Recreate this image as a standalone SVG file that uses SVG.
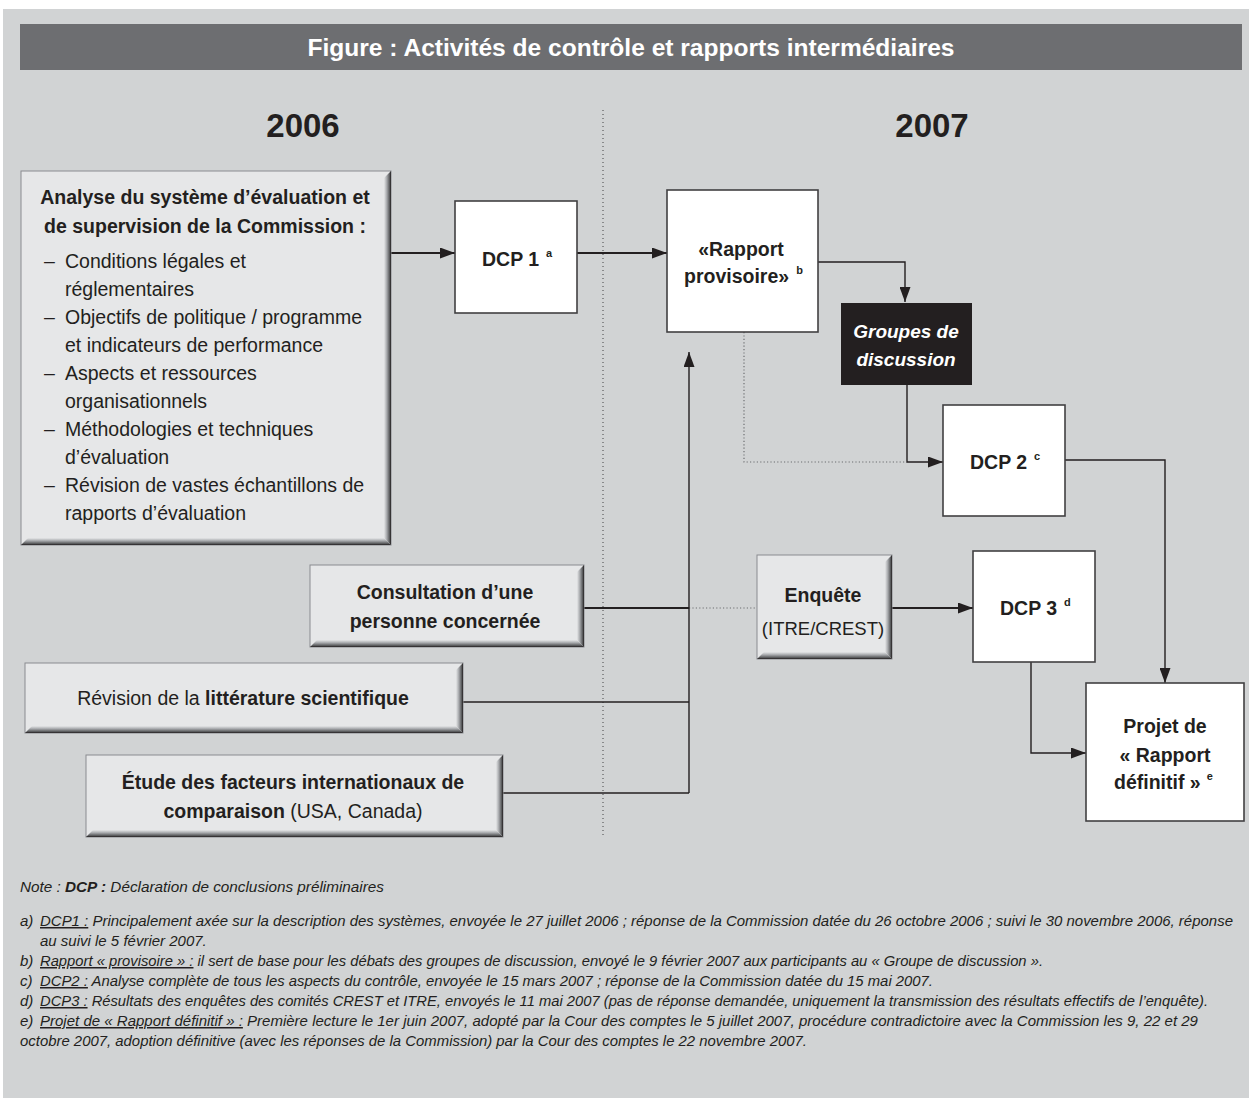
<svg xmlns="http://www.w3.org/2000/svg" width="1249" height="1102" viewBox="0 0 1249 1102">
<style>
text{font-family:"Liberation Sans",Arial,sans-serif;fill:#231f20}
.b{font-weight:bold}
.lbl{font-size:19.5px}
.sup{font-size:11px;font-weight:bold}
.bev{fill:#e6e7e8;stroke:#8a8c8f;stroke-width:1}
.bR{fill:url(#gR)}
.bB{fill:url(#gB)}
.wbox{fill:#ffffff;stroke:#414042;stroke-width:1.6}
.ln{fill:none;stroke:#231f20;stroke-width:1.8}
.ln2{fill:none;stroke:#231f20;stroke-width:1.4}
.dot{fill:none;stroke:#6d6e71;stroke-width:1.2;stroke-dasharray:1.2 2.2}
.div{fill:none;stroke:#414042;stroke-width:1;stroke-dasharray:1 3}
.note{font-size:15px;font-style:italic}
.u{text-decoration:underline}
</style>
<defs>
<linearGradient id="gR" x1="0" y1="0" x2="1" y2="0">
<stop offset="0" stop-color="#e6e7e8"/><stop offset="0.4" stop-color="#a7a9ac"/><stop offset="0.8" stop-color="#58595b"/><stop offset="1" stop-color="#231f20"/>
</linearGradient>
<linearGradient id="gB" x1="0" y1="0" x2="0" y2="1">
<stop offset="0" stop-color="#e6e7e8"/><stop offset="0.4" stop-color="#a7a9ac"/><stop offset="0.8" stop-color="#58595b"/><stop offset="1" stop-color="#231f20"/>
</linearGradient>
<marker id="ah" markerUnits="userSpaceOnUse" markerWidth="15" markerHeight="11" refX="15" refY="5.5" orient="auto">
<path d="M0,0 L15,5.5 L0,11 Z" fill="#231f20"/>
</marker>
</defs>

<rect x="0" y="0" width="1249" height="1102" fill="#ffffff"/>
<rect x="3" y="9" width="1246" height="1089" fill="#d1d3d4"/>

<g id="title">
<rect x="20" y="24" width="1222" height="46" fill="#6d6e71"/>
<text x="631" y="56" text-anchor="middle" class="b" style="font-size:23px;fill:#ffffff" textLength="647" lengthAdjust="spacingAndGlyphs">Figure : Activités de contrôle et rapports intermédiaires</text>
</g>

<g id="years">
<text x="303" y="137" text-anchor="middle" class="b" style="font-size:33px">2006</text>
<text x="932" y="137" text-anchor="middle" class="b" style="font-size:33px">2007</text>
<line x1="603" y1="110" x2="603" y2="838" class="div"/>
</g>

<g id="connectors">
<line x1="391" y1="253" x2="455" y2="253" class="ln" marker-end="url(#ah)"/>
<line x1="577" y1="253" x2="667" y2="253" class="ln" marker-end="url(#ah)"/>
<polyline points="818,262 905,262 905,302" class="ln2" marker-end="url(#ah)"/>
<polyline points="907,385 907,462 943,462" class="ln2" marker-end="url(#ah)"/>
<polyline points="744,332 744,462 907,462" class="dot"/>
<polyline points="1065,460 1165,460 1165,683" class="ln2" marker-end="url(#ah)"/>
<polyline points="1031,662 1031,753 1086,753" class="ln2" marker-end="url(#ah)"/>
<line x1="892" y1="608" x2="973" y2="608" class="ln" marker-end="url(#ah)"/>
<line x1="584" y1="608" x2="689" y2="608" class="ln"/>
<line x1="689" y1="608" x2="757" y2="608" class="dot"/>
<line x1="463" y1="702" x2="689" y2="702" class="ln2"/>
<line x1="503" y1="793" x2="689" y2="793" class="ln2"/>
<line x1="689" y1="793" x2="689" y2="352" class="ln2" marker-end="url(#ah)"/>
</g>

<g id="node-analyse">
<rect x="21" y="171" width="370" height="374" class="bev"/>
<polygon points="384,178 391,171 391,545 384,538" class="bR"/>
<polygon points="21,545 28,538 384,538 391,545" class="bB"/>
<text x="205" y="204" text-anchor="middle" class="b lbl">Analyse du système d’évaluation et</text>
<text x="205" y="233" text-anchor="middle" class="b lbl">de supervision de la Commission :</text>
<text x="44" y="268" class="lbl">–</text><text x="65" y="268" class="lbl">Conditions légales et</text>
<text x="65" y="296" class="lbl">réglementaires</text>
<text x="44" y="324" class="lbl">–</text><text x="65" y="324" class="lbl">Objectifs de politique / programme</text>
<text x="65" y="352" class="lbl">et indicateurs de performance</text>
<text x="44" y="380" class="lbl">–</text><text x="65" y="380" class="lbl">Aspects et ressources</text>
<text x="65" y="408" class="lbl">organisationnels</text>
<text x="44" y="436" class="lbl">–</text><text x="65" y="436" class="lbl">Méthodologies et techniques</text>
<text x="65" y="464" class="lbl">d’évaluation</text>
<text x="44" y="492" class="lbl">–</text><text x="65" y="492" class="lbl">Révision de vastes échantillons de</text>
<text x="65" y="520" class="lbl">rapports d’évaluation</text>
</g>

<g id="node-dcp1">
<rect x="455" y="201" width="122" height="112" class="wbox"/>
<text x="482" y="266" class="b lbl">DCP 1<tspan class="sup" dx="7" dy="-9">a</tspan></text>
</g>

<g id="node-rapport">
<rect x="667" y="190" width="151" height="142" class="wbox"/>
<text x="741" y="256" text-anchor="middle" class="b lbl">«Rapport</text>
<text x="684" y="283" class="b lbl">provisoire»<tspan class="sup" dx="7" dy="-9">b</tspan></text>
</g>

<g id="node-groupes">
<rect x="841" y="303" width="131" height="82" fill="#231f20"/>
<text x="906" y="338" text-anchor="middle" class="b" style="font-size:19px;font-style:italic;fill:#ffffff">Groupes de</text>
<text x="906" y="366" text-anchor="middle" class="b" style="font-size:19px;font-style:italic;fill:#ffffff">discussion</text>
</g>

<g id="node-dcp2">
<rect x="943" y="405" width="122" height="111" class="wbox"/>
<text x="970" y="469" class="b lbl">DCP 2<tspan class="sup" dx="7" dy="-9">c</tspan></text>
</g>

<g id="node-consultation">
<rect x="310" y="565" width="274" height="82" class="bev"/>
<polygon points="577,572 584,565 584,647 577,640" class="bR"/>
<polygon points="310,647 317,640 577,640 584,647" class="bB"/>
<text x="445" y="599" text-anchor="middle" class="b lbl">Consultation d’une</text>
<text x="445" y="628" text-anchor="middle" class="b lbl">personne concernée</text>
</g>

<g id="node-enquete">
<rect x="757" y="555" width="135" height="104" class="bev"/>
<polygon points="885,562 892,555 892,659 885,652" class="bR"/>
<polygon points="757,659 764,652 885,652 892,659" class="bB"/>
<text x="823" y="602" text-anchor="middle" class="b lbl">Enquête</text>
<text x="823" y="635" text-anchor="middle" style="font-size:18.5px">(ITRE/CREST)</text>
</g>

<g id="node-dcp3">
<rect x="973" y="551" width="122" height="111" class="wbox"/>
<text x="1000" y="615" class="b lbl">DCP 3<tspan class="sup" dx="7" dy="-9">d</tspan></text>
</g>

<g id="node-revision">
<rect x="25" y="663" width="438" height="70" class="bev"/>
<polygon points="456,670 463,663 463,733 456,726" class="bR"/>
<polygon points="25,733 32,726 456,726 463,733" class="bB"/>
<text x="243" y="705" text-anchor="middle" class="lbl">Révision de la <tspan class="b">littérature scientifique</tspan></text>
</g>

<g id="node-etude">
<rect x="86" y="755" width="417" height="82" class="bev"/>
<polygon points="496,762 503,755 503,837 496,830" class="bR"/>
<polygon points="86,837 93,830 496,830 503,837" class="bB"/>
<text x="293" y="789" text-anchor="middle" class="b lbl">Étude des facteurs internationaux de</text>
<text x="293" y="818" text-anchor="middle" class="lbl"><tspan class="b">comparaison</tspan> (USA, Canada)</text>
</g>

<g id="node-projet">
<rect x="1086" y="683" width="158" height="138" class="wbox"/>
<text x="1165" y="733" text-anchor="middle" class="b lbl">Projet de</text>
<text x="1165" y="762" text-anchor="middle" class="b lbl">« Rapport</text>
<text x="1114" y="789" class="b lbl">définitif »<tspan class="sup" dx="6" dy="-9">e</tspan></text>
</g>

<g id="notes">
<text x="20" y="892" class="note" textLength="364" lengthAdjust="spacingAndGlyphs">Note : <tspan class="b">DCP :</tspan> Déclaration de conclusions préliminaires</text>
<text x="20" y="926" class="note">a)</text>
<text x="40" y="926" class="note" textLength="1193" lengthAdjust="spacingAndGlyphs"><tspan class="u">DCP1 :</tspan> Principalement axée sur la description des systèmes, envoyée le 27 juillet 2006 ; réponse de la Commission datée du 26 octobre 2006 ; suivi le 30 novembre 2006, réponse</text>
<text x="40" y="946" class="note">au suivi le 5 février 2007.</text>
<text x="20" y="966" class="note">b)</text>
<text x="40" y="966" class="note" textLength="1003" lengthAdjust="spacingAndGlyphs"><tspan class="u">Rapport « provisoire » :</tspan> il sert de base pour les débats des groupes de discussion, envoyé le 9 février 2007 aux participants au « Groupe de discussion ».</text>
<text x="20" y="986" class="note">c)</text>
<text x="40" y="986" class="note" textLength="893" lengthAdjust="spacingAndGlyphs"><tspan class="u">DCP2 :</tspan> Analyse complète de tous les aspects du contrôle, envoyée le 15 mars 2007 ; réponse de la Commission datée du 15 mai 2007.</text>
<text x="20" y="1006" class="note">d)</text>
<text x="40" y="1006" class="note" textLength="1168" lengthAdjust="spacingAndGlyphs"><tspan class="u">DCP3 :</tspan> Résultats des enquêtes des comités CREST et ITRE, envoyés le 11 mai 2007 (pas de réponse demandée, uniquement la transmission des résultats effectifs de l’enquête).</text>
<text x="20" y="1026" class="note">e)</text>
<text x="40" y="1026" class="note" textLength="1158" lengthAdjust="spacingAndGlyphs"><tspan class="u">Projet de « Rapport définitif » :</tspan> Première lecture le 1er juin 2007, adopté par la Cour des comptes le 5 juillet 2007, procédure contradictoire avec la Commission les 9, 22 et 29</text>
<text x="20" y="1046" class="note" textLength="787" lengthAdjust="spacingAndGlyphs">octobre 2007, adoption définitive (avec les réponses de la Commission) par la Cour des comptes le 22 novembre 2007.</text>
</g>
</svg>
